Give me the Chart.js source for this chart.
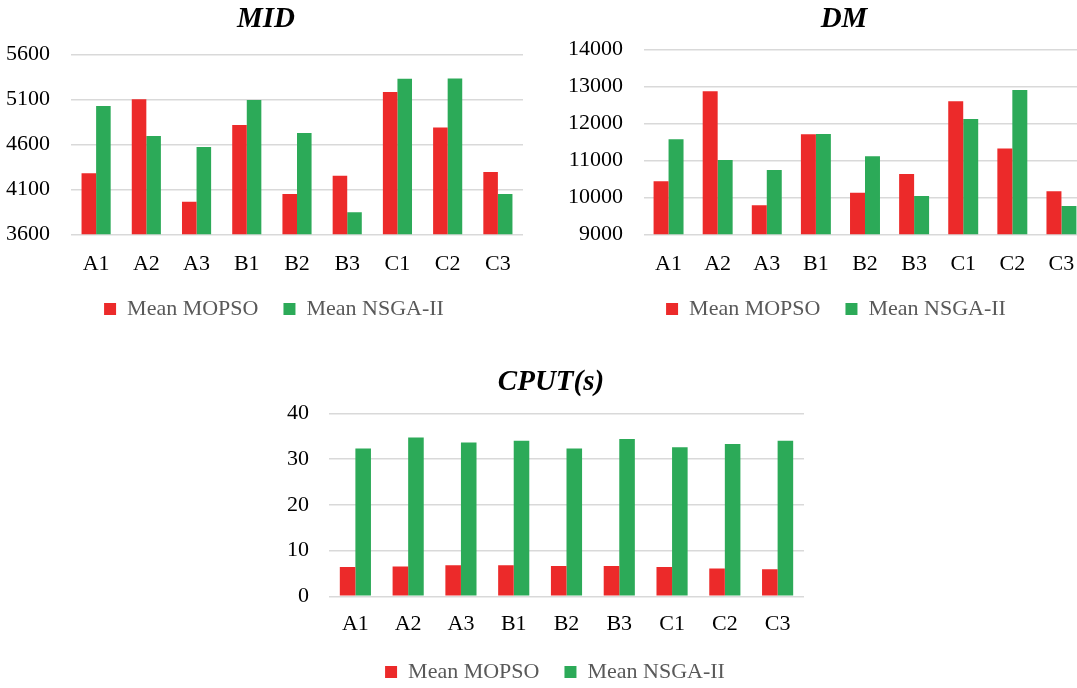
<!DOCTYPE html>
<html>
<head>
<meta charset="utf-8">
<script src="https://cdn.jsdelivr.net/npm/chart.js@4.4.1/dist/chart.umd.min.js"></script>
<style>
  html, body { margin: 0; padding: 0; background: #fff; overflow: hidden; width: 1077px; height: 688px; }
  .box { position: absolute; }
</style>
</head>
<body>
<div class="box" id="boxMid" style="left:0px;top:0px;width:532px;height:330px"><canvas id="chartMid"></canvas></div>
<div class="box" id="boxDm" style="left:540px;top:0px;width:608px;height:330px"><canvas id="chartDm"></canvas></div>
<div class="box" id="boxCpu" style="left:270px;top:363px;width:562px;height:330px"><canvas id="chartCpu"></canvas></div>
<script>
const categories = ['A1', 'A2', 'A3', 'B1', 'B2', 'B3', 'C1', 'C2', 'C3'];
const seriesNames = ['Mean MOPSO', 'Mean NSGA-II'];

const midMopso = [4277, 5100, 3963, 4814, 4048, 4251, 5180, 4788, 4292];
const midNsga  = [5025, 4692, 4569, 5092, 4725, 3844, 5328, 5332, 4048];
const midTicks = [3600, 4100, 4600, 5100, 5600];

const dmMopso = [10432, 12865, 9784, 11703, 10126, 10631, 12595, 11316, 10162];
const dmNsga  = [11568, 11009, 10739, 11712, 11108, 10036, 12117, 12901, 9766];
const dmTicks = [9000, 10000, 11000, 12000, 13000, 14000];

const cpuMopso = [6.4, 6.5, 6.8, 6.8, 6.6, 6.6, 6.4, 6.1, 5.9];
const cpuNsga  = [32.3, 34.7, 33.6, 34.0, 32.3, 34.4, 32.6, 33.3, 34.0];
const cpuTicks = [0, 10, 20, 30, 40];

const RED = '#ec2a2a';
const GREEN = '#2caa58';
const FONT = "'Liberation Serif', 'Times New Roman', serif";

// nudges the legend sideways, the way excel placed it
const legendShift = {
    id: 'legendShift',
    afterLayout(chart, args, opts) {
        const lg = chart.legend;
        if (lg && opts.dx) {
            lg.left += opts.dx;
            lg.right += opts.dx;
        }
    }
};

function makeChart(id, title, mopso, nsga, ticks, opt) {
    const ctx = document.getElementById(id);
    return new Chart(ctx, {
        type: 'bar',
        plugins: [legendShift],
        data: {
            labels: categories,
            datasets: [
                { label: seriesNames[0], data: mopso, backgroundColor: RED, borderWidth: 0 },
                { label: seriesNames[1], data: nsga, backgroundColor: GREEN, borderWidth: 0 }
            ]
        },
        options: {
            responsive: true,
            maintainAspectRatio: false,
            animation: false,
            datasets: {
                bar: { categoryPercentage: opt.catPct, barPercentage: 1 }
            },
            layout: { padding: 0 },
            plugins: {
                legendShift: { dx: opt.legendDx },
                title: {
                    display: true,
                    text: title,
                    color: '#000',
                    font: { family: FONT, size: 29, style: 'italic', weight: 'bold' },
                    padding: { top: 2, bottom: opt.titleGap }
                },
                legend: {
                    position: 'bottom',
                    labels: {
                        boxWidth: 12,
                        boxHeight: 12,
                        padding: 25,
                        color: '#595959',
                        font: { family: FONT, size: 22 }
                    }
                },
                tooltip: { enabled: false }
            },
            scales: {
                x: {
                    grid: { display: false },
                    border: { display: false },
                    ticks: { color: '#000', padding: opt.xPad, font: { family: FONT, size: 22 } },
                    afterFit: s => { s.height = opt.xHeight; }
                },
                y: {
                    min: ticks[0],
                    max: ticks[ticks.length - 1],
                    afterBuildTicks: s => { s.ticks = ticks.map(v => ({ value: v })); },
                    grid: { color: '#d9d9d9', lineWidth: 1.5, drawTicks: false },
                    border: { display: false },
                    ticks: {
                        color: '#000',
                        padding: opt.yPad,
                        font: { family: FONT, size: 22 },
                        callback: v => String(v)
                    },
                    afterFit: s => { s.width = opt.yWidth; }
                },
                y2: {
                    position: 'right',
                    display: true,
                    grid: { display: false },
                    border: { display: false },
                    ticks: { display: false },
                    afterFit: s => { s.width = opt.rightGap; }
                }
            }
        }
    });
}

makeChart('chartMid', 'MID', midMopso, midNsga, midTicks,
    { catPct: 0.58, titleGap: 17.5, xHeight: 38.7, xPad: 9, yPad: 21, yWidth: 71, rightGap: 9, legendDx: 8 });
makeChart('chartDm', 'DM', dmMopso, dmNsga, dmTicks,
    { catPct: 0.61, titleGap: 12.5, xHeight: 38.7, xPad: 9, yPad: 21, yWidth: 104, rightGap: 62, legendDx: -8 });
makeChart('chartCpu', 'CPUT(s)', cpuMopso, cpuNsga, cpuTicks,
    { catPct: 0.59, titleGap: 13.5, xHeight: 39.7, xPad: 7, yPad: 20, yWidth: 59, rightGap: 28, legendDx: 4 });
</script>
</body>
</html>
